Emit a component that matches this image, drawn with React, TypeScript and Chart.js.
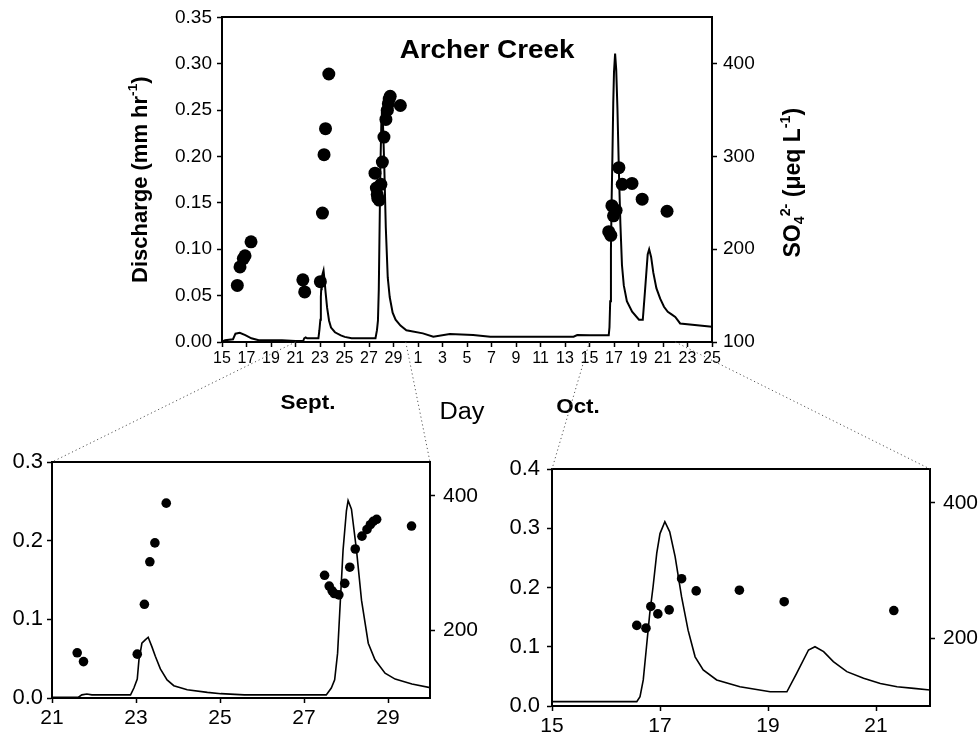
import React, { useEffect, useRef } from "react";
import { Chart, registerables } from "chart.js";
Chart.register(...registerables);

// Day numbers: September days as-is, October days as 30 + day of month
const dischargeDays = [
  15.0, 15.25, 15.9, 16.1, 16.45, 16.9, 17.4, 18.0, 19.9, 21.0, 21.63, 21.71, 21.83, 21.95, 22.87,
  22.95, 23.03, 23.07, 23.1, 23.14, 23.22, 23.29, 23.38, 23.46, 23.58, 23.74, 23.9, 24.22, 24.7,
  25.02, 25.58, 27.53, 27.65, 27.73, 27.8, 27.85, 27.93, 28.01, 28.05, 28.13, 28.25, 28.37, 28.53,
  28.69, 28.93, 29.17, 29.57, 30.05, 31.4, 32.25, 33.6, 35.5, 36.9, 43.7, 44.0, 45.0, 46.57, 46.63,
  46.69, 46.75, 46.81, 46.87, 46.94, 47.0, 47.09, 47.18, 47.28, 47.4, 47.52, 47.65, 47.8, 48.05,
  48.48, 49.04, 49.35, 49.53, 49.75, 49.87, 50.03, 50.21, 50.46, 50.77, 51.08, 51.39, 51.7, 52.0,
  52.4, 55.0,
];
const dischargeValues = [
  0.0005, 0.002, 0.003, 0.009, 0.01, 0.0075, 0.004, 0.002, 0.002, 0.001, 0.001, 0.004, 0.005, 0.004,
  0.004, 0.0127, 0.024, 0.0485, 0.057, 0.0696, 0.0738, 0.0772, 0.065, 0.053, 0.037, 0.023, 0.0156,
  0.0105, 0.0071, 0.0055, 0.004, 0.004, 0.0127, 0.023, 0.057, 0.108, 0.188, 0.238, 0.251, 0.24,
  0.188, 0.124, 0.0696, 0.0485, 0.0316, 0.024, 0.0177, 0.0127, 0.0093, 0.0057, 0.0085, 0.0075,
  0.0057, 0.0057, 0.0075, 0.0073, 0.0073, 0.0157, 0.044, 0.1, 0.156, 0.2, 0.258, 0.291, 0.311, 0.294,
  0.252, 0.184, 0.128, 0.083, 0.061, 0.044, 0.0326, 0.024, 0.024, 0.055, 0.0945, 0.1, 0.0917, 0.0748,
  0.058, 0.0467, 0.038, 0.0326, 0.0298, 0.027, 0.02, 0.0164,
];
const so4Days = [
  16.25, 16.47, 16.74, 16.88, 17.37, 21.6, 21.75, 23.03, 23.2, 23.33, 23.45, 23.72, 27.49, 27.6,
  27.67, 27.72, 27.83, 27.97, 28.09, 28.22, 28.38, 28.5, 28.58, 28.65, 28.73, 29.56, 46.57, 46.74,
  46.83, 46.96, 47.17, 47.4, 47.67, 48.47, 49.3, 51.33,
];
const so4Values = [
  161, 181, 190, 193, 208, 167, 154, 165, 239, 302, 330, 389, 282, 266, 259, 255, 253, 270, 294, 321,
  340, 350, 357, 362, 365, 355, 219, 215, 247, 236, 242, 288, 270, 271, 254, 241,
];

const mainRange = [15, 55];
const sepRange = [21, 30];
const octRange = [45, 52];

const mainXTicks = [15, 17, 19, 21, 23, 25, 27, 29, 31, 33, 35, 37, 39, 41, 43, 45, 47, 49, 51, 53, 55];
const mainYTicks = [0, 0.05, 0.1, 0.15, 0.2, 0.25, 0.3, 0.35];
const mainY2Ticks = [100, 200, 300, 400];
const sepXTicks = [21, 23, 25, 27, 29];
const sepYTicks = [0, 0.1, 0.2, 0.3];
const octXTicks = [45, 47, 49, 51];
const octYTicks = [0, 0.1, 0.2, 0.3, 0.4];
const insetY2Ticks = [200, 400];

const FONT = '"Liberation Sans", Arial, Helvetica, sans-serif';

type Seg = { t: string; sup?: boolean; sub?: boolean };

function drawRich(ctx: CanvasRenderingContext2D, segs: Seg[], x: number, y: number, size: number, bold: boolean, rot: number, sx = 1) {
  const f = (s: number) => `${bold ? "bold " : ""}${s}px ${FONT}`;
  ctx.save();
  ctx.translate(x, y);
  ctx.rotate(rot);
  ctx.scale(sx, 1);
  let total = 0;
  const ws: number[] = [];
  for (const s of segs) {
    const sz = s.sup || s.sub ? size * 0.62 : size;
    ctx.font = f(sz);
    const w = ctx.measureText(s.t).width;
    ws.push(w);
    total += w;
  }
  let cx = -total / 2;
  ctx.fillStyle = "#000";
  ctx.textBaseline = "middle";
  ctx.textAlign = "left";
  segs.forEach((s, i) => {
    const sz = s.sup || s.sub ? size * 0.62 : size;
    ctx.font = f(sz);
    const dy = s.sup ? -size * 0.36 : s.sub ? size * 0.26 : 0;
    ctx.fillText(s.t, cx, dy);
    cx += ws[i];
  });
  ctx.restore();
}

const topBorder = {
  id: "topBorder",
  afterDraw(chart: any) {
    const { ctx, chartArea: a } = chart;
    ctx.save();
    ctx.strokeStyle = "#000";
    ctx.lineWidth = 2;
    ctx.beginPath();
    ctx.moveTo(a.left - 1, Math.round(a.top));
    ctx.lineTo(a.right + 1, Math.round(a.top));
    ctx.stroke();
    ctx.restore();
  },
};

const mainDecor = {
  id: "mainDecor",
  afterDraw(chart: any) {
    const { ctx, chartArea: a } = chart;
    const midY = (a.top + a.bottom) / 2;
    drawRich(ctx, [{ t: "Archer Creek" }], a.left + 265, a.top + 33, 26, true, 0, 1.07);
    drawRich(ctx, [{ t: "Discharge (mm hr" }, { t: "-1", sup: true }, { t: ")" }], a.left - 81, midY, 22, true, -Math.PI / 2);
    drawRich(
      ctx,
      [{ t: "SO" }, { t: "4", sub: true }, { t: "2-", sup: true }, { t: " (\u03bceq L" }, { t: "-1", sup: true }, { t: ")" }],
      a.right + 82,
      midY + 3,
      23,
      true,
      -Math.PI / 2
    );
    drawRich(ctx, [{ t: "Sept." }], a.left + 86, a.bottom + 61, 20, true, 0, 1.12);
    drawRich(ctx, [{ t: "Day" }], a.left + 240, a.bottom + 71, 23, false, 0, 1.1);
    drawRich(ctx, [{ t: "Oct." }], a.left + 356, a.bottom + 65, 20, true, 0, 1.12);
  },
};

const dayLabel = (v: any) => {
  const n = Number(v);
  return String(n > 30 ? Math.round(n - 30) : Math.round(n));
};

type Opts = {
  xRange: number[];
  xTicks: number[];
  yMax: number;
  yTicks: number[];
  y2Ticks: number[];
  yDigits: number;
  pad: { left: number; top: number; right: number; bottom: number };
  yW: number;
  y2W: number;
  xH: number;
  xFont: number;
  yFont: number;
  y2Font: number;
  yPad: number;
  y2Pad: number;
  xPad: number;
  r: number;
  lw: number;
  extra: any[];
};

function makeChart(canvas: HTMLCanvasElement, o: Opts) {
  const q = dischargeDays.map((d, i) => ({ x: d, y: dischargeValues[i] }));
  const s = so4Days.map((d, i) => ({ x: d, y: so4Values[i] }));
  const grid = {
    display: true,
    drawOnChartArea: false,
    drawTicks: true,
    tickLength: 5,
    tickColor: "#000",
    tickWidth: 1.5,
    color: "#000",
  };
  const border = { display: true, color: "#000", width: 2 };
  return new Chart(canvas, {
    type: "line",
    data: {
      datasets: [
        {
          type: "scatter",
          label: "SO4",
          data: s,
          yAxisID: "y1",
          pointRadius: o.r,
          pointBackgroundColor: "#000",
          pointBorderColor: "#000",
          pointBorderWidth: 0,
          showLine: false,
        } as any,
        {
          type: "line",
          label: "Discharge",
          data: q,
          yAxisID: "y",
          borderColor: "#000",
          borderWidth: o.lw,
          pointRadius: 0,
          tension: 0,
          fill: false,
          clip: 0,
        } as any,
      ],
    },
    options: {
      animation: false,
      responsive: false,
      maintainAspectRatio: false,
      events: [],
      layout: { padding: o.pad },
      plugins: { legend: { display: false }, tooltip: { enabled: false } },
      scales: {
        x: {
          type: "linear",
          min: o.xRange[0],
          max: o.xRange[1],
          afterBuildTicks: (sc: any) => {
            sc.ticks = o.xTicks.map((v) => ({ value: v }));
          },
          afterFit: (sc: any) => {
            sc.height = o.xH;
          },
          ticks: {
            autoSkip: false,
            maxRotation: 0,
            minRotation: 0,
            color: "#000",
            padding: o.xPad,
            font: { family: FONT, size: o.xFont },
            callback: dayLabel,
          },
          grid,
          border,
        },
        y: {
          type: "linear",
          position: "left",
          min: 0,
          max: o.yMax,
          afterBuildTicks: (sc: any) => {
            sc.ticks = o.yTicks.map((v) => ({ value: v }));
          },
          afterFit: (sc: any) => {
            sc.width = o.yW;
          },
          ticks: {
            color: "#000",
            padding: o.yPad,
            font: { family: FONT, size: o.yFont },
            callback: (v: any) => Number(v).toFixed(o.yDigits),
          },
          grid,
          border,
        },
        y1: {
          type: "linear",
          position: "right",
          min: 100,
          max: 450,
          afterBuildTicks: (sc: any) => {
            sc.ticks = o.y2Ticks.map((v) => ({ value: v }));
          },
          afterFit: (sc: any) => {
            sc.width = o.y2W;
          },
          ticks: {
            color: "#000",
            padding: o.y2Pad,
            font: { family: FONT, size: o.y2Font },
            callback: (v: any) => String(v),
          },
          grid,
          border,
        },
      },
    } as any,
    plugins: [topBorder, ...o.extra],
  });
}

const SEP_LEFT = 0;
const INSET_TOP = 440;
const OCT_LEFT = 489;

export default function App() {
  const mainRef = useRef<HTMLCanvasElement>(null);
  const sepRef = useRef<HTMLCanvasElement>(null);
  const octRef = useRef<HTMLCanvasElement>(null);
  const overRef = useRef<HTMLCanvasElement>(null);

  useEffect(() => {
    const main = makeChart(mainRef.current!, {
      xRange: mainRange,
      xTicks: mainXTicks,
      yMax: 0.35,
      yTicks: mainYTicks,
      y2Ticks: mainY2Ticks,
      yDigits: 2,
      pad: { left: 150, top: 15, right: 0, bottom: 0 },
      yW: 72,
      y2W: 266,
      xH: 98,
      xFont: 16,
      yFont: 19,
      y2Font: 19,
      yPad: 5,
      y2Pad: 6,
      xPad: 2,
      r: 6.5,
      lw: 2,
      extra: [mainDecor],
    });
    const sep = makeChart(sepRef.current!, {
      xRange: sepRange,
      xTicks: sepXTicks,
      yMax: 0.3,
      yTicks: sepYTicks,
      y2Ticks: insetY2Ticks,
      yDigits: 1,
      pad: { left: 0, top: 22, right: 0, bottom: 0 },
      yW: 52,
      y2W: 59,
      xH: 40,
      xFont: 21,
      yFont: 22,
      y2Font: 21,
      yPad: 4,
      y2Pad: 8,
      xPad: 3,
      r: 4.8,
      lw: 1.6,
      extra: [],
    });
    const oct = makeChart(octRef.current!, {
      xRange: octRange,
      xTicks: octXTicks,
      yMax: 0.4,
      yTicks: octYTicks,
      y2Ticks: insetY2Ticks,
      yDigits: 1,
      pad: { left: 0, top: 29, right: 0, bottom: 0 },
      yW: 63,
      y2W: 48,
      xH: 32,
      xFont: 21,
      yFont: 22,
      y2Font: 21,
      yPad: 7,
      y2Pad: 8,
      xPad: 3,
      r: 4.8,
      lw: 1.6,
      extra: [],
    });

    const ov = overRef.current!;
    const ctx = ov.getContext("2d")!;
    ctx.clearRect(0, 0, ov.width, ov.height);
    const mx = main.scales.x;
    const by = main.chartArea.bottom;
    const sa = sep.chartArea;
    const oa = oct.chartArea;
    const lines = [
      [mx.getPixelForValue(sepRange[0]), by, SEP_LEFT + sa.left, INSET_TOP + sa.top],
      [mx.getPixelForValue(sepRange[1]), by, SEP_LEFT + sa.right, INSET_TOP + sa.top],
      [mx.getPixelForValue(octRange[0]), by, OCT_LEFT + oa.left, INSET_TOP + oa.top],
      [mx.getPixelForValue(octRange[1]), by, OCT_LEFT + oa.right, INSET_TOP + oa.top],
    ];
    ctx.save();
    ctx.strokeStyle = "#555";
    ctx.lineWidth = 1;
    ctx.setLineDash([1.2, 2.8]);
    for (const [x1, y1, x2, y2] of lines) {
      ctx.beginPath();
      ctx.moveTo(x1, y1);
      ctx.lineTo(x2, y2);
      ctx.stroke();
    }
    ctx.restore();

    return () => {
      main.destroy();
      sep.destroy();
      oct.destroy();
      ctx.clearRect(0, 0, ov.width, ov.height);
    };
  }, []);

  return (
    <div style={{ position: "absolute", left: 0, top: 0, width: 978, height: 738, background: "#fff", overflow: "hidden" }}>
      <canvas ref={mainRef} width={978} height={440} style={{ position: "absolute", left: 0, top: 0, width: 978, height: 440 }} />
      <canvas ref={sepRef} width={489} height={298} style={{ position: "absolute", left: SEP_LEFT, top: INSET_TOP, width: 489, height: 298 }} />
      <canvas ref={octRef} width={489} height={298} style={{ position: "absolute", left: OCT_LEFT, top: INSET_TOP, width: 489, height: 298 }} />
      <canvas ref={overRef} width={978} height={738} style={{ position: "absolute", left: 0, top: 0, width: 978, height: 738, pointerEvents: "none" }} />
    </div>
  );
}
